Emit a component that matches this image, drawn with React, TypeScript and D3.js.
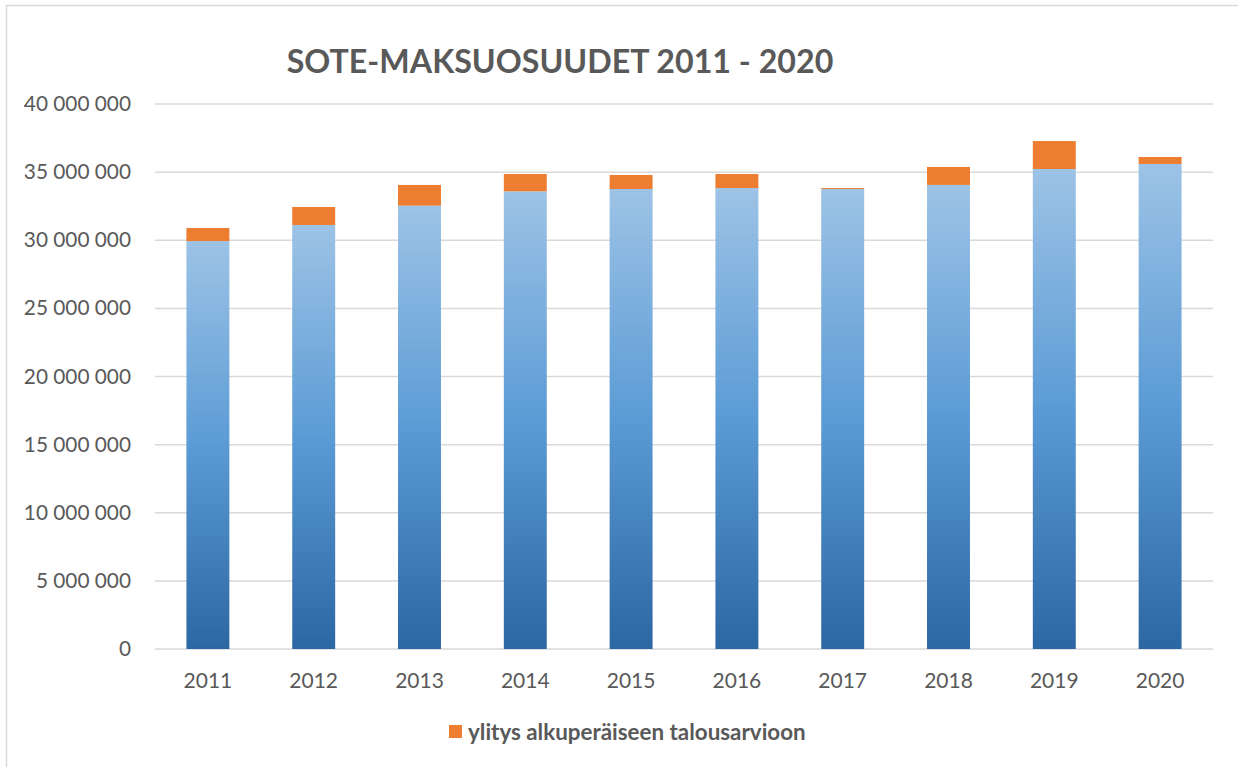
import React from "react";
import * as d3 from "d3";

const years = ["2011", "2012", "2013", "2014", "2015", "2016", "2017", "2018", "2019", "2020"];
const baseValues = [29940000, 31120000, 32540000, 33590000, 33760000, 33830000, 33760000, 34060000, 35230000, 35600000];
const overValues = [960000, 1320000, 1520000, 1270000, 1030000, 1030000, 70000, 1320000, 2050000, 510000];
const yTicks = [0, 5000000, 10000000, 15000000, 20000000, 25000000, 30000000, 35000000, 40000000];
const title = "SOTE-MAKSUOSUUDET 2011 - 2020";
const legendLabel = "ylitys alkuperäiseen talousarvioon";

const W = 1238;
const H = 767;
const FONT = "Lato, 'Open Sans', sans-serif";
const TXT = "#595959";

export default function App() {
  const x = d3.scaleBand<string>().domain(years).range([155, 1213]).paddingInner(0.594).paddingOuter(0.297);
  const y = d3.scaleLinear().domain([0, 40000000]).range([649, 104]);
  const fmt = (v: number) => d3.format(",")(v).replace(/,/g, " ");

  return (
    <svg width={W} height={H} style={{ position: "absolute", left: 0, top: 0 }}>
      <defs>
        <linearGradient id="blueGrad" x1="0" y1="0" x2="0" y2="1">
          <stop offset="0" stopColor="#9DC3E6" />
          <stop offset="0.5" stopColor="#5B9BD5" />
          <stop offset="1" stopColor="#2C67A3" />
        </linearGradient>
      </defs>
      <rect x={0} y={0} width={W} height={H} fill="#fff" />
      <rect x={6.5} y={5.5} width={W + 10} height={H + 10} fill="none" stroke="#d9d9d9" strokeWidth={1.5} />
      <text x={560} y={73} textAnchor="middle" fontFamily={FONT} fontWeight="bold" fontSize={32.2} fill={TXT}>
        {title}
      </text>
      {yTicks.map((t) => (
        <g key={t}>
          <line x1={155} x2={1213} y1={y(t)} y2={y(t)} stroke="#d9d9d9" strokeWidth={1.5} />
          <text x={131} y={y(t) + 7} textAnchor="end" fontFamily={FONT} fontSize={20.8} fill={TXT}>
            {fmt(t)}
          </text>
        </g>
      ))}
      {years.map((yr, i) => {
        const bx = x(yr) as number;
        const bw = x.bandwidth();
        const b = baseValues[i];
        const o = overValues[i];
        return (
          <g key={yr}>
            <rect x={bx} y={y(b)} width={bw} height={y(0) - y(b)} fill="url(#blueGrad)" />
            <rect x={bx} y={y(b + o)} width={bw} height={y(b) - y(b + o)} fill="#ED7D31" />
            <text x={bx + bw / 2} y={688} textAnchor="middle" fontFamily={FONT} fontSize={21} fill={TXT}>
              {yr}
            </text>
          </g>
        );
      })}
      <rect x={449} y={725} width={13} height={13} fill="#ED7D31" />
      <text x={468} y={740} fontFamily={FONT} fontWeight="bold" fontSize={22.4} fill={TXT}>
        {legendLabel}
      </text>
    </svg>
  );
}
